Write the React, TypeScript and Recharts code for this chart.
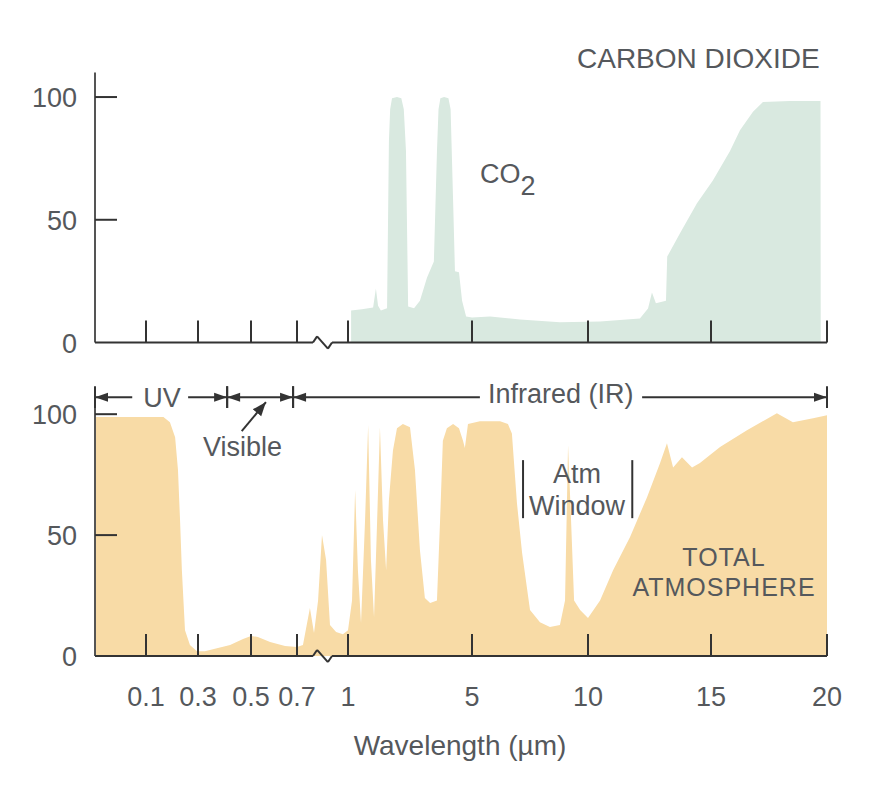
import React from 'react';
import { AreaChart, Area, XAxis, YAxis, ReferenceLine } from 'recharts';

const FONT = '"Liberation Sans", Arial, sans-serif';
const TEXT = '#55585c';
const INK = '#333333';
const CO2_FILL = '#d9e9e0';
const ATM_FILL = '#f8dba6';

// broken wavelength axis: knots in µm and where they sit along the axis
const AXIS_WL = [0, 0.1, 0.3, 0.5, 0.7, 1, 5, 10, 15, 20];
const AXIS_POS = [0, 51, 103, 156, 202, 253, 377, 493, 616, 732];

const X_TICK_WL = [0.1, 0.3, 0.5, 0.7, 1, 5, 10, 15, 20];
const X_TICK_LABELS = ['0.1', '0.3', '0.5', '0.7', '1', '5', '10', '15', '20'];
const Y_TICKS = [0, 50, 100];

// CO2 absorption (%)
const CO2_WL = [
  1.1, 1.45, 1.81, 1.9, 1.97, 2.06, 2.26, 2.32, 2.36, 2.42, 2.58, 2.72, 2.8, 2.87, 2.94,
  3.13, 3.32, 3.55, 3.77, 3.87, 3.92, 3.98, 4.1, 4.24, 4.31, 4.39, 4.45, 4.58, 4.68, 4.81,
  5.0, 5.78, 7.07, 8.79, 10.49, 12.11, 12.44, 12.6, 12.76, 13.17, 13.22, 13.74, 14.43,
  15.08, 15.82, 16.25, 16.81, 17.24, 18.4, 19.72, 19.73,
];
const CO2_ABS = [
  13, 13.5, 14.3, 22, 15, 13, 14, 82, 95, 99.5, 100, 99.5, 95, 78, 14.7,
  14, 17, 26.5, 33, 78, 95, 99.5, 100, 99.5, 95, 58, 29, 28.6, 17, 10.6,
  10.2, 10.6, 9.4, 8.2, 8.6, 9.8, 13.9, 20.4, 16, 17, 35, 44.5, 56.7,
  66, 78, 86.5, 94, 98, 98.4, 98.4, 0,
];

// total atmosphere absorption (%)
const ATM_WL = [
  0, 0.167, 0.192, 0.212, 0.223, 0.231, 0.238, 0.25, 0.269, 0.296, 0.326, 0.364,
  0.421, 0.47, 0.5, 0.53, 0.583, 0.648, 0.7, 0.735, 0.776, 0.8, 0.824, 0.847,
  0.871, 0.894, 0.93, 0.97, 1.0, 1.13, 1.23, 1.32, 1.42, 1.55, 1.65, 1.74, 1.84,
  1.94, 2.03, 2.13, 2.23, 2.32, 2.45, 2.58, 2.77, 3.0, 3.16, 3.32, 3.48, 3.65,
  3.87, 3.97, 4.06, 4.19, 4.39, 4.58, 4.71, 4.77, 4.87, 5.34, 6.21, 6.55, 6.72,
  6.94, 7.16, 7.5, 7.93, 8.36, 8.79, 9.01, 9.14, 9.27, 9.4, 9.66, 10.0, 10.49,
  11.02, 11.71, 12.4, 12.93, 13.21, 13.46, 13.82, 14.23, 14.55, 15.39, 16.55,
  17.84, 18.53, 19.4, 20,
];
const ATM_ABS = [
  98.8, 98.8, 96.7, 90.5, 76.9, 56, 35.5, 10.7, 4.5, 2, 2, 3,
  4.5, 7, 8.3, 7.9, 5.8, 4.1, 3.7, 4.5, 19.8, 9.5, 23, 50,
  39.7, 12.8, 9.9, 9, 10.7, 23, 68.6, 35.5, 13.6, 56, 95.5, 39.7, 16,
  56, 94.6, 56, 35.5, 64.5, 85, 94.2, 95.9, 94.6, 76.9, 43.8, 24, 21.9,
  23, 56, 89, 94.2, 95.9, 94.2, 89, 86, 95.9, 97.1, 97.1, 95.9, 92,
  63, 42.6, 19, 14, 12, 12.8, 23, 87.2, 56, 23, 19, 15.7, 23,
  35.5, 49.2, 65.7, 79.8, 88, 78, 82.2, 78, 79.8, 86.4, 93.4,
  100.4, 96.7, 98.3, 99.6,
];

const toPos = (w: number) => {
  for (let i = 1; i < AXIS_WL.length; i++) {
    if (w <= AXIS_WL[i]) {
      const t = (w - AXIS_WL[i - 1]) / (AXIS_WL[i] - AXIS_WL[i - 1]);
      return AXIS_POS[i - 1] + t * (AXIS_POS[i] - AXIS_POS[i - 1]);
    }
  }
  return AXIS_POS[AXIS_POS.length - 1];
};

const co2Data = CO2_WL.map((w, i) => ({ pos: toPos(w), value: CO2_ABS[i] }));
const atmData = ATM_WL.map((w, i) => ({ pos: toPos(w), value: ATM_ABS[i] }));
const xTicks = X_TICK_WL.map(toPos);

const textStyle = { fontFamily: FONT, fontSize: 27, fill: TEXT };

const XTick = (props: any) => {
  const { x, y, index, showLabel } = props;
  if (!showLabel) return <g />;
  return (
    <text x={x} y={y + 50} textAnchor="middle" style={textStyle}>
      {X_TICK_LABELS[index]}
    </text>
  );
};

const YTick = (props: any) => {
  const { x, y, payload } = props;
  return (
    <text x={x - 18} y={y + 10} textAnchor="end" style={textStyle}>
      {payload.value}
    </text>
  );
};

// x axis line with the zigzag break between 0.7 and 1 µm
const BROKEN_AXIS: [number, number][][] = [
  [[0, 0], [0.794, 0]],
  [[0.794, 0], [0.818, 2.5]],
  [[0.818, 2.5], [0.882, -2.5]],
  [[0.882, -2.5], [0.906, 0]],
  [[0.906, 0], [20, 0]],
];

const seg = (key: string, x1: number, y1: number, x2: number, y2: number, extra: any = {}) => (
  <ReferenceLine key={key} segment={[{ x: x1, y: y1 }, { x: x2, y: y2 }]}
    stroke={INK} strokeWidth={2} ifOverflow="visible" {...extra} />
);

// axis lines and inward tick marks, in axis units
const frameLines = (pxPerUnit: number) => [
  seg('yaxis', 0, 0, 0, 110, { stroke: '#555' }),
  ...BROKEN_AXIS.map(([a, b], i) => seg('ax' + i, toPos(a[0]), a[1], toPos(b[0]), b[1])),
  ...xTicks.map((p, i) => seg('xt' + i, p, 0, p, 22 / pxPerUnit)),
  ...Y_TICKS.filter((v) => v > 0).map((v) => seg('yt' + v, 0, v, 22, v)),
];

// spectral region arrows (wavelength from, to, marker at start, marker at end)
const REGION_Y = 107;
const REGION_SEGMENTS: [number, number, boolean, boolean][] = [
  [0, 0.073, true, false],
  [0.262, 0.41, false, true],
  [0.41, 0.683, true, true],
  [0.683, 5.34, true, false],
  [12.2, 20, false, true],
];

// Atm Window brackets (µm)
const WINDOW_EDGES = [7.2, 11.8];

// one panel = the filled series, with the frame drawn by a same-sized chart on top
const Panel = (props: any) => {
  const { data, fill, top, height, marginTop, axisHeight, showLabels, children } = props;
  const plotH = height - marginTop - axisHeight;
  const common = {
    width: 878,
    height,
    data,
    margin: { top: marginTop, right: 51, bottom: 0, left: 0 },
  };
  const axes = (labels: boolean, visible: boolean) => [
    <XAxis key="x" type="number" dataKey="pos" domain={[0, 732]} ticks={xTicks} interval={0}
      height={axisHeight} axisLine={false} tickLine={false} tickSize={0} tickMargin={0}
      tick={visible ? (p: any) => <XTick {...p} showLabel={labels} /> : false} />,
    <YAxis key="y" type="number" domain={[0, 110]} ticks={Y_TICKS} interval={0} width={95}
      axisLine={false} tickLine={false} tickSize={0} tickMargin={0}
      tick={visible ? (p: any) => <YTick {...p} /> : false} />,
  ];
  return (
    <>
      <div style={{ position: 'absolute', left: 0, top }}>
        <AreaChart {...common}>
          <Area type="linear" dataKey="value" stroke="none" fill={fill} fillOpacity={1}
            isAnimationActive={false} />
          {axes(false, false)}
        </AreaChart>
      </div>
      <div style={{ position: 'absolute', left: 0, top }}>
        <AreaChart {...common}>
          <Area type="linear" dataKey="value" stroke="none" fill="none" isAnimationActive={false} />
          {axes(showLabels, true)}
          {frameLines(plotH / 110)}
          {children}
        </AreaChart>
      </div>
    </>
  );
};

export default function App() {
  return (
    <div style={{ position: 'absolute', left: 0, top: 0, width: 878, height: 792, background: '#fff' }}>
      <svg width={0} height={0} style={{ position: 'absolute' }}>
        <defs>
          <marker id="barArrow" markerUnits="userSpaceOnUse" markerWidth={16} markerHeight={22}
            refX={14} refY={11} orient="auto-start-reverse">
            <path d="M1,6.5 L14,11 L1,15.5 Z" fill={INK} />
            <rect x={13} y={0} width={2} height={22} fill={INK} />
          </marker>
          <marker id="tipArrow" markerUnits="userSpaceOnUse" markerWidth={16} markerHeight={14}
            refX={14} refY={7} orient="auto">
            <path d="M0,1.5 L14,7 L0,12.5 Z" fill={INK} />
          </marker>
        </defs>
      </svg>

      <Panel data={co2Data} fill={CO2_FILL} top={0} height={370} marginTop={72.5}
        axisHeight={27.5} showLabels={false} />

      <Panel data={atmData} fill={ATM_FILL} top={370} height={422} marginTop={20}
        axisHeight={136} showLabels>
        {REGION_SEGMENTS.map(([a, b, s, e], i) =>
          seg('rg' + i, toPos(a), REGION_Y, toPos(b), REGION_Y, {
            markerStart: s ? 'url(#barArrow)' : undefined,
            markerEnd: e ? 'url(#barArrow)' : undefined,
          })
        )}
        {seg('vis', toPos(0.465), 93, toPos(0.565), 105, { markerEnd: 'url(#tipArrow)' })}
        {WINDOW_EDGES.map((w, i) => seg('win' + i, toPos(w), 57, toPos(w), 81))}
      </Panel>

      <svg width={878} height={792} style={{ position: 'absolute', left: 0, top: 0, pointerEvents: 'none' }}>
        <g style={textStyle}>
          <text x={577} y={68} style={{ fontSize: 28 }}>CARBON DIOXIDE</text>
          <text x={480} y={183}>CO<tspan dy={12}>2</tspan></text>
          <text x={162} y={407} textAnchor="middle">UV</text>
          <text x={203} y={456}>Visible</text>
          <text x={488} y={403}>Infrared (IR)</text>
          <text x={577} y={483} textAnchor="middle">Atm</text>
          <text x={577} y={515} textAnchor="middle">Window</text>
          <text x={724} y={566} textAnchor="middle" style={{ fontSize: 25, letterSpacing: 1 }}>TOTAL</text>
          <text x={724} y={596} textAnchor="middle" style={{ fontSize: 25, letterSpacing: 1 }}>ATMOSPHERE</text>
          <text x={460} y={755} textAnchor="middle" style={{ fontSize: 28 }}>Wavelength (µm)</text>
        </g>
      </svg>
    </div>
  );
}
